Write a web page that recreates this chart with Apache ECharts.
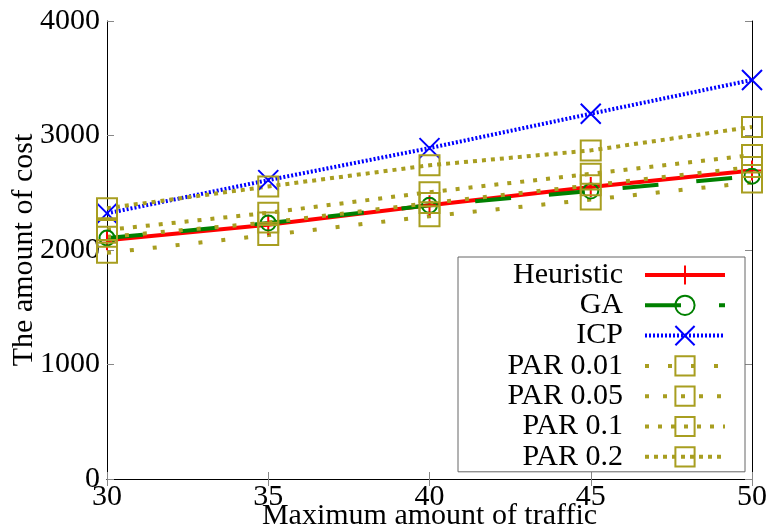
<!DOCTYPE html>
<html>
<head>
<meta charset="utf-8">
<script src="https://cdn.jsdelivr.net/npm/echarts@6/dist/echarts.min.js"></script>
<style>
  html, body { margin: 0; padding: 0; background: #fff; }
  #chart { width: 769px; height: 531px; }
</style>
</head>
<body>
<div id="chart"></div>
<script>
// x values (maximum amount of traffic)
var traffic = [30, 35, 40, 45, 50];

// cost per method
var heuristic = [2085, 2220, 2390, 2550, 2695];
var ga = [2105, 2235, 2390, 2515, 2645];
var icp = [2320, 2610, 2890, 3190, 3485];
var par001 = [1975, 2130, 2295, 2440, 2590];
var par005 = [2115, 2240, 2410, 2565, 2725];
var par01 = [2175, 2325, 2505, 2665, 2830];
var par02 = [2365, 2555, 2740, 2870, 3075];

var FONT = 'Liberation Serif';
var OLIVE = '#a89e20';

function pairs(ys) {
    var out = [];
    for (var i = 0; i < traffic.length; i++) {
        out.push([traffic[i], ys[i]]);
    }
    return out;
}

// builds one line series, marker drawn hollow (see-through like gnuplot)
function makeSeries(name, ys, color, dash, symbol, size) {
    return {
        name: name,
        type: 'line',
        data: pairs(ys),
        symbol: symbol,
        symbolSize: size,
        showAllSymbol: true,
        lineStyle: { color: color, width: 4, type: dash, cap: 'butt' },
        itemStyle: { color: 'rgba(0,0,0,0)', borderColor: color, borderWidth: 2 },
        emphasis: { disabled: true },
        z: 2
    };
}

var plusPath = 'path://M0,-1 L0,1 M-1,0 L1,0';
var crossPath = 'path://M-1,-1 L1,1 M-1,1 L1,-1';

var series = [
    makeSeries('Heuristic', heuristic, '#ff0000', 'solid', plusPath, 20),
    makeSeries('GA', ga, '#008000', [36, 38], 'circle', 15),
    makeSeries('ICP', icp, '#0000ff', [2, 2], crossPath, 20),
    makeSeries('PAR 0.01', par001, OLIVE, [4, 19], 'rect', 20),
    makeSeries('PAR 0.05', par005, OLIVE, [4, 14], 'rect', 20),
    makeSeries('PAR 0.1', par01, OLIVE, [4, 9], 'rect', 20),
    makeSeries('PAR 0.2', par02, OLIVE, [4, 5], 'rect', 20)
];

var tickStyle = { show: true, inside: true, length: 7, lineStyle: { color: '#888' } };
var lineBlack = { show: true, lineStyle: { color: '#000', width: 1 } };

var option = {
    animation: false,
    backgroundColor: '#fff',
    grid: { left: 107, right: 17, top: 21, bottom: 52, containLabel: false, outerBoundsMode: 'none' },
    legend: {
        orient: 'vertical',
        left: 458,
        top: 257,
        align: 'right',
        itemWidth: 80,
        itemHeight: 24,
        itemGap: 0.3,
        padding: [3, 18, 0, 15],
        backgroundColor: '#fff',
        borderColor: '#666',
        borderWidth: 1,
        borderRadius: 0,
        selectedMode: false,
        lineStyle: { width: 4 },
        formatter: '{a|{name}}{b| }',
        textStyle: {
            fontFamily: FONT,
            fontSize: 30,
            lineHeight: 24,
            color: '#000',
            rich: {
                a: { fontFamily: FONT, fontSize: 30, width: 150, align: 'right', lineHeight: 24 },
                b: { width: 17, fontSize: 10, lineHeight: 24 }
            }
        },
        data: ['Heuristic', 'GA', 'ICP', 'PAR 0.01', 'PAR 0.05', 'PAR 0.1', 'PAR 0.2']
    },
    xAxis: [{
        type: 'value',
        min: 30,
        max: 50,
        interval: 5,
        name: 'Maximum amount of traffic',
        nameLocation: 'middle',
        nameGap: 22,
        nameMoveOverlap: false,
        nameTextStyle: { fontFamily: FONT, fontSize: 30, color: '#000' },
        axisLine: lineBlack,
        axisTick: tickStyle,
        axisLabel: { fontFamily: FONT, fontSize: 30, color: '#000', margin: 3 },
        splitLine: { show: false }
    }, {
        type: 'value',
        position: 'top',
        min: 30,
        max: 50,
        interval: 5,
        axisLine: lineBlack,
        axisTick: tickStyle,
        axisLabel: { show: false },
        splitLine: { show: false }
    }],
    yAxis: [{
        type: 'value',
        min: 0,
        max: 4000,
        interval: 1000,
        name: 'The amount of cost',
        nameLocation: 'middle',
        nameGap: 68,
        nameMoveOverlap: false,
        nameTextStyle: { fontFamily: FONT, fontSize: 30, color: '#000' },
        axisLine: lineBlack,
        axisTick: tickStyle,
        axisLabel: {
            fontFamily: FONT, fontSize: 30, color: '#000', margin: 7,
            formatter: function (v) { return String(v); }
        },
        splitLine: { show: false }
    }, {
        type: 'value',
        position: 'right',
        min: 0,
        max: 4000,
        interval: 1000,
        axisLine: lineBlack,
        axisTick: tickStyle,
        axisLabel: { show: false },
        splitLine: { show: false }
    }],
    series: series
};

var myChart = echarts.init(document.getElementById('chart'));
myChart.setOption(option);
</script>
</body>
</html>
